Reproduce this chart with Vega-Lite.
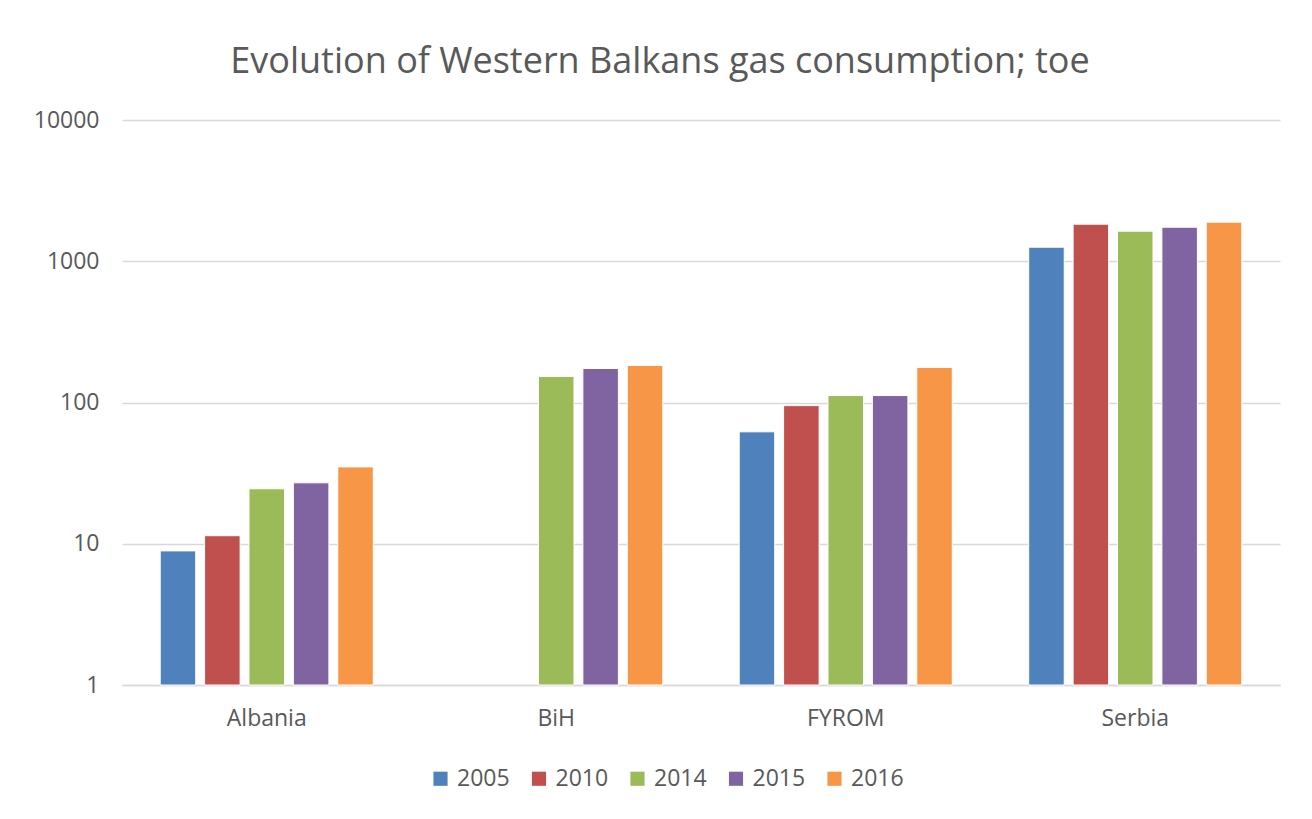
{
  "$schema": "https://vega.github.io/schema/vega-lite/v6.json",
  "width": 1158,
  "height": 565,
  "autosize": {"type": "none"},
  "padding": {"left": 122, "top": 120, "right": 32, "bottom": 134},
  "background": "white",
  "title": {
    "text": "Evolution of Western Balkans gas consumption; toe",
    "font": "Open Sans",
    "fontSize": 36,
    "fontWeight": "normal",
    "color": "#595959",
    "anchor": "middle",
    "dx": -41,
    "offset": 28
  },
  "data": {
    "values": [
      {"country": "Albania", "year": "2005", "value": 8.9},
      {"country": "Albania", "year": "2010", "value": 11.4},
      {"country": "Albania", "year": "2014", "value": 24.5},
      {"country": "Albania", "year": "2015", "value": 27},
      {"country": "Albania", "year": "2016", "value": 35},
      {"country": "BiH", "year": "2014", "value": 153},
      {"country": "BiH", "year": "2015", "value": 174},
      {"country": "BiH", "year": "2016", "value": 183},
      {"country": "FYROM", "year": "2005", "value": 62},
      {"country": "FYROM", "year": "2010", "value": 95},
      {"country": "FYROM", "year": "2014", "value": 112},
      {"country": "FYROM", "year": "2015", "value": 112},
      {"country": "FYROM", "year": "2016", "value": 177},
      {"country": "Serbia", "year": "2005", "value": 1257},
      {"country": "Serbia", "year": "2010", "value": 1830},
      {"country": "Serbia", "year": "2014", "value": 1633},
      {"country": "Serbia", "year": "2015", "value": 1742},
      {"country": "Serbia", "year": "2016", "value": 1890}
    ]
  },
  "mark": {"type": "bar", "stroke": "white", "strokeWidth": 1},
  "encoding": {
    "x": {
      "field": "country",
      "type": "nominal",
      "sort": ["Albania", "BiH", "FYROM", "Serbia"],
      "scale": {"paddingInner": 0.264, "paddingOuter": 0.132},
      "axis": {
        "title": null,
        "labelAngle": 0,
        "labelFont": "Open Sans",
        "labelFontSize": 23,
        "labelColor": "#595959",
        "labelPadding": 22,
        "ticks": false,
        "domainColor": "#d9d9d9",
        "domainWidth": 1.5,
        "grid": false
      }
    },
    "xOffset": {
      "field": "year",
      "type": "nominal",
      "scale": {"paddingInner": 0.2, "paddingOuter": 0}
    },
    "y": {
      "field": "value",
      "type": "quantitative",
      "scale": {"type": "log", "domain": [1, 10000]},
      "axis": {
        "title": null,
        "values": [1, 10, 100, 1000, 10000],
        "format": "d",
        "labelFont": "Open Sans",
        "labelFontSize": 23,
        "labelColor": "#595959",
        "labelPadding": 23,
        "ticks": false,
        "domain": false,
        "gridColor": "#d9d9d9",
        "gridWidth": 1.5
      }
    },
    "y2": {"datum": 1},
    "color": {
      "field": "year",
      "type": "nominal",
      "scale": {
        "domain": ["2005", "2010", "2014", "2015", "2016"],
        "range": ["#4F81BD", "#C0504D", "#9BBB59", "#8064A2", "#F79646"]
      },
      "legend": {
        "title": null,
        "orient": "none",
        "legendX": 307,
        "legendY": 647,
        "direction": "horizontal",
        "symbolType": "square",
        "symbolSize": 200,
        "symbolStrokeWidth": 0,
        "labelFont": "Open Sans",
        "labelFontSize": 23,
        "labelColor": "#595959",
        "columnPadding": 17.5,
        "labelOffset": 5
      }
    }
  },
  "config": {
    "view": {"stroke": null}
  }
}
